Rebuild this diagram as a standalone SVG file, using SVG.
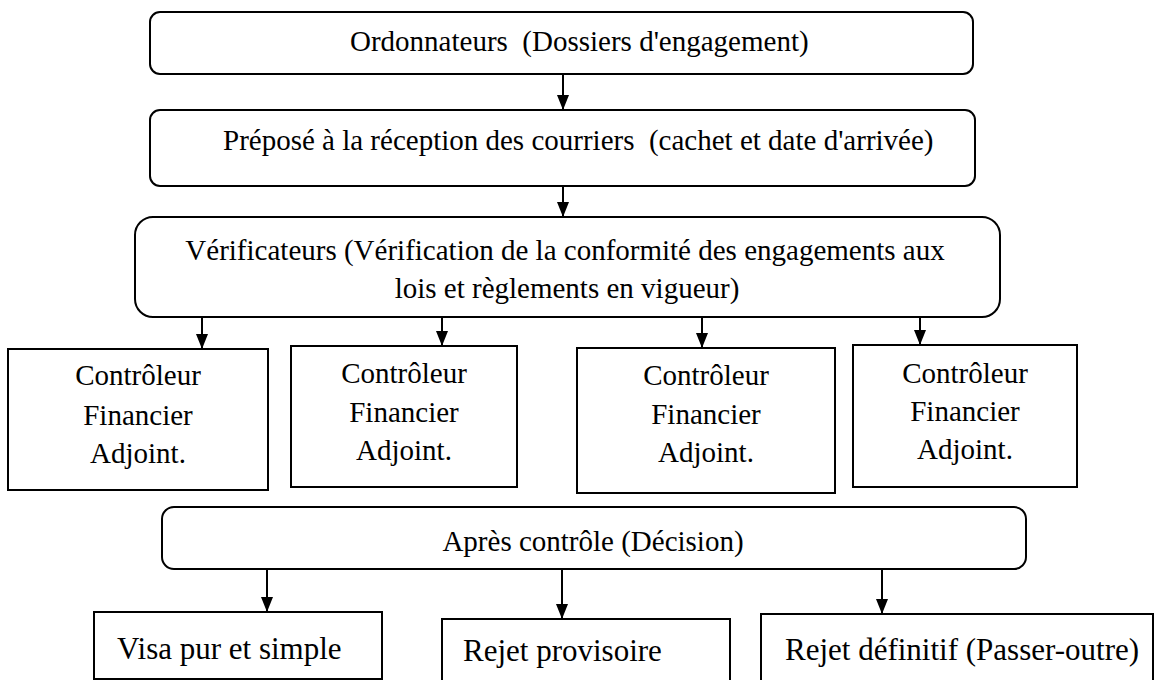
<svg xmlns="http://www.w3.org/2000/svg" width="1155" height="680" viewBox="0 0 1155 680">
<style>
.box{fill:#fff;stroke:#000;stroke-width:2}
.t{font-family:"Liberation Serif","Times New Roman",serif;font-size:29px;fill:#000}
.m{text-anchor:middle}
.b{font-size:31px}
.conn line{stroke:#000;stroke-width:2}
</style>
<defs>
<marker id="ah" markerWidth="15" markerHeight="12" refX="15" refY="6" orient="auto" markerUnits="userSpaceOnUse" viewBox="0 0 15 12">
<path d="M0,0 L15,6 L0,12 Z" fill="#000"/>
</marker>
</defs>
<g id="n1"><rect class="box" x="150" y="12" width="823" height="62" rx="10"/>
<text class="t" x="350" y="51" xml:space="preserve">Ordonnateurs  (Dossiers d'engagement)</text></g>
<g id="n2"><rect class="box" x="150" y="110" width="825" height="76" rx="10"/>
<text class="t" x="223" y="150" xml:space="preserve">Préposé à la réception des courriers  (cachet et date d'arrivée)</text></g>
<g id="n3"><rect class="box" x="135" y="217" width="865" height="100" rx="18"/>
<text class="t m" x="565" y="260">Vérificateurs (Vérification de la conformité des engagements aux</text>
<text class="t m" x="567" y="298">lois et règlements en vigueur)</text></g>
<g id="n4"><rect class="box" x="8" y="349" width="260" height="141"/>
<text class="t m" x="138" y="385">Contrôleur</text><text class="t m" x="138" y="425">Financier</text><text class="t m" x="138" y="463">Adjoint.</text></g>
<g id="n5"><rect class="box" x="291" y="346" width="226" height="141"/>
<text class="t m" x="404" y="383">Contrôleur</text><text class="t m" x="404" y="422">Financier</text><text class="t m" x="404" y="460">Adjoint.</text></g>
<g id="n6"><rect class="box" x="577" y="348" width="258" height="145"/>
<text class="t m" x="706" y="385">Contrôleur</text><text class="t m" x="706" y="424">Financier</text><text class="t m" x="706" y="462">Adjoint.</text></g>
<g id="n7"><rect class="box" x="853" y="345" width="224" height="142"/>
<text class="t m" x="965" y="383">Contrôleur</text><text class="t m" x="965" y="421">Financier</text><text class="t m" x="965" y="459">Adjoint.</text></g>
<g id="n8"><rect class="box" x="162" y="507" width="864" height="62" rx="12"/>
<text class="t m" x="593" y="551">Après contrôle (Décision)</text></g>
<g id="n9"><rect class="box" x="94" y="612" width="288" height="67"/>
<text class="t b" x="117" y="659">Visa pur et simple</text></g>
<g id="n10"><rect class="box" x="442" y="619" width="288" height="75"/>
<text class="t b" x="463" y="661">Rejet provisoire</text></g>
<g id="n11"><rect class="box" x="761" y="614" width="392" height="80"/>
<text class="t b" x="785" y="660">Rejet définitif (Passer-outre)</text></g>
<g class="conn" id="connectors">
<line x1="563" y1="74" x2="563" y2="110" marker-end="url(#ah)"/>
<line x1="563" y1="186" x2="563" y2="217" marker-end="url(#ah)"/>
<line x1="202" y1="317" x2="202" y2="349" marker-end="url(#ah)"/>
<line x1="442" y1="317" x2="442" y2="346" marker-end="url(#ah)"/>
<line x1="702" y1="317" x2="702" y2="348" marker-end="url(#ah)"/>
<line x1="920" y1="317" x2="920" y2="345" marker-end="url(#ah)"/>
<line x1="267" y1="569" x2="267" y2="612" marker-end="url(#ah)"/>
<line x1="562" y1="569" x2="562" y2="619" marker-end="url(#ah)"/>
<line x1="882" y1="569" x2="882" y2="614" marker-end="url(#ah)"/>
</g>
</svg>
